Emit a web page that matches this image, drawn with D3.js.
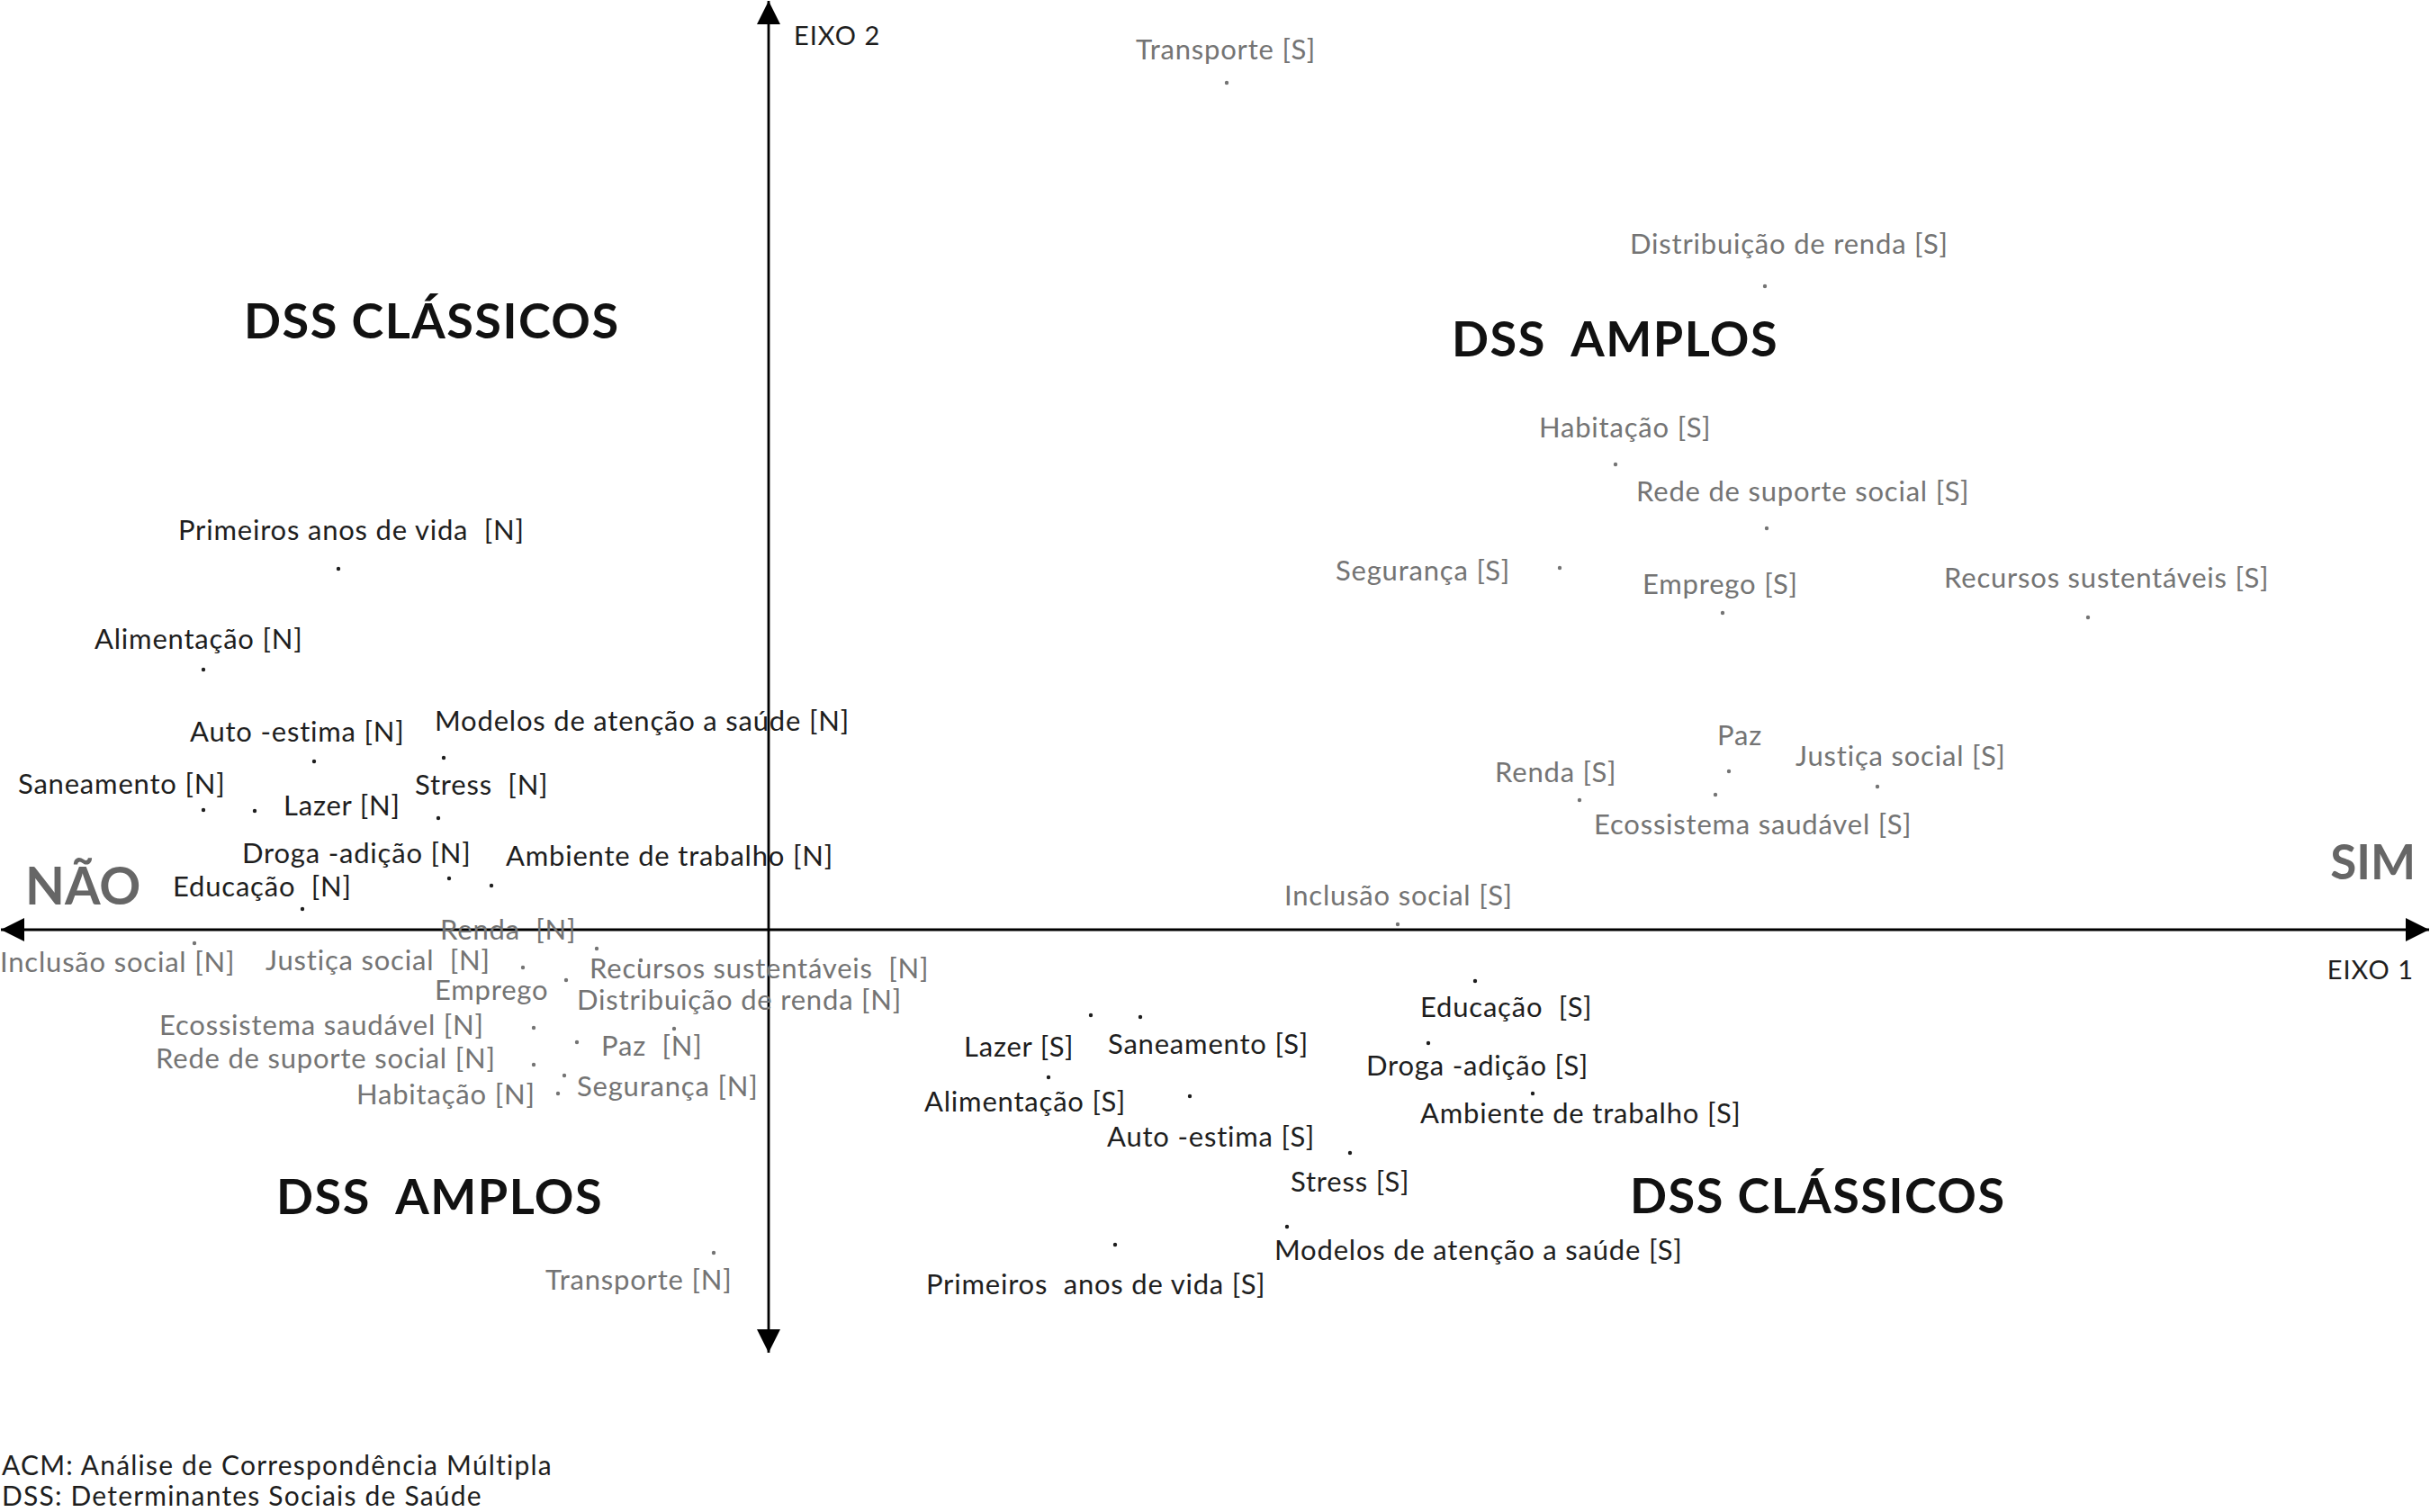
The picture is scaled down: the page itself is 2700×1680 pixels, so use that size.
<!DOCTYPE html>
<html>
<head>
<meta charset="utf-8">
<script src="https://cdn.jsdelivr.net/npm/d3@7"></script>
<style>
  html, body { margin: 0; padding: 0; background: #fff; }
  svg { display: block; }
  text { white-space: pre; }
</style>
</head>
<body>
<svg id="chart" width="2700" height="1680"></svg>
<script>
// ---- Data (MCA coordinates, Eixo 1 / Eixo 2) ----
const labelsClassicN = ["Primeiros anos de vida  [N]", "Alimentação [N]", "Auto -estima [N]", "Modelos de atenção a saúde [N]", "Saneamento [N]", "Lazer [N]", "Stress  [N]", "Droga -adição [N]", "Ambiente de trabalho [N]", "Educação  [N]"];
const xClassicN = [-0.956, -1.256, -1.010, -0.722, -1.256, -1.142, -0.734, -0.710, -0.616, -1.036];
const yClassicN = [0.802, 0.578, 0.374, 0.382, 0.266, 0.264, 0.248, 0.114, 0.098, 0.046];

const labelsBroadN = ["Renda  [N]", "Inclusão social [N]", "Justiça social  [N]", "Emprego", "Recursos sustentáveis  [N]", "Distribuição de renda [N]", "Ecossistema saudável [N]", "Paz  [N]", "Rede de suporte social [N]", "Segurança [N]", "Habitação [N]", "Transporte [N]"];
const xBroadN = [-0.382, -1.276, -0.546, -0.450, -0.284, -0.210, -0.522, -0.426, -0.522, -0.454, -0.468, -0.122];
const yBroadN = [-0.042, -0.030, -0.084, -0.112, -0.068, -0.220, -0.218, -0.250, -0.300, -0.324, -0.364, -0.718];

const labelsBroadS = ["Transporte [S]", "Distribuição de renda [S]", "Habitação [S]", "Rede de suporte social [S]", "Segurança [S]", "Emprego [S]", "Recursos sustentáveis [S]", "Paz", "Justiça social [S]", "Renda [S]", "Ecossistema saudável [S]", "Inclusão social [S]"];
const xBroadS = [1.018, 2.214, 1.882, 2.218, 1.758, 2.120, 2.932, 2.134, 2.464, 1.802, 2.104, 1.398];
const yBroadS = [1.882, 1.430, 1.034, 0.892, 0.804, 0.704, 0.694, 0.352, 0.318, 0.288, 0.300, 0.012];

const labelsClassicS = ["Educação  [S]", "Lazer [S]", "Saneamento [S]", "Droga -adição [S]", "Alimentação [S]", "Auto -estima [S]", "Ambiente de trabalho [S]", "Stress [S]", "Modelos de atenção a saúde [S]", "Primeiros  anos de vida [S]"];
const xClassicS = [1.570, 0.716, 0.826, 1.466, 0.622, 0.936, 1.698, 1.292, 1.152, 0.770];
const yClassicS = [-0.114, -0.190, -0.194, -0.252, -0.328, -0.370, -0.364, -0.496, -0.660, -0.700];

const quadrantTitles = ["DSS CLÁSSICOS", "DSS  AMPLOS", "DSS  AMPLOS", "DSS CLÁSSICOS"];
const poleLabels = ["NÃO", "SIM"];
const axisLabels = ["EIXO 1", "EIXO 2"];
const footnotes = ["ACM: Análise de Correspondência Múltipla", "DSS: Determinantes Sociais de Saúde"];

// ---- Layout (label offsets in px, relative to point) ----
const offClassicN = [[-178,-32],[-121,-23],[-138,-22],[-10,-30],[-206,-18],[32,5],[-26,-26],[-230,-17],[16,-22],[-144,-14]];
const offBroadN = [[-174,-10],[-216,32],[-286,3],[-146,22],[-57,20],[-108,-21],[-416,8],[27,15],[-420,4],[14,23],[-224,12],[-187,41]];
const offBroadS = [[-101,-26],[-150,-36],[-85,-30],[-145,-30],[-249,14],[-89,-21],[-160,-33],[-13,-29],[-91,-23],[-94,-20],[-135,44],[-126,-21]];
const offClassicS = [[-61,40],[-141,46],[-36,41],[-69,36],[-138,38],[-92,56],[-125,33],[-66,43],[-14,37],[-210,55]];

const W = 2700, H = 1680;
const x = d3.scaleLinear().domain([-1.708, 3.692]).range([0, W]);
const y = d3.scaleLinear().domain([-1.294, 2.066]).range([H, 0]);
const yAxisBottom = -0.94;

const svg = d3.select("#chart");
const FONT = "Lato, 'Open Sans', 'Noto Sans', sans-serif";
const BLACK = "#1e1e1e", GREY = "#747474";

// arrow markers
const defs = svg.append("defs");
defs.append("marker").attr("id", "arrow").attr("viewBox", "0 0 10 10")
  .attr("refX", 10).attr("refY", 5).attr("markerUnits", "userSpaceOnUse")
  .attr("markerWidth", 26).attr("markerHeight", 26).attr("orient", "auto-start-reverse")
  .append("path").attr("d", "M0,0 L10,5 L0,10 Z").attr("fill", "#000");

// axes
svg.append("line")
  .attr("x1", x.range()[0] + 1).attr("x2", x.range()[1] - 1)
  .attr("y1", y(0)).attr("y2", y(0))
  .attr("stroke", "#000").attr("stroke-width", 3.2)
  .attr("marker-start", "url(#arrow)").attr("marker-end", "url(#arrow)");
svg.append("line")
  .attr("x1", x(0)).attr("x2", x(0))
  .attr("y1", y(yAxisBottom)).attr("y2", y.range()[1] + 1)
  .attr("stroke", "#000").attr("stroke-width", 2.8)
  .attr("marker-start", "url(#arrow)").attr("marker-end", "url(#arrow)");

function group(labels, xs, ys, offs, color) {
  const data = labels.map((l, i) => ({ label: l, x: xs[i], y: ys[i], off: offs[i] }));
  const g = svg.append("g");
  g.selectAll("circle").data(data).join("circle")
    .attr("cx", d => x(d.x)).attr("cy", d => y(d.y)).attr("r", 2.2)
    .attr("fill", color);
  g.selectAll("text").data(data).join("text")
    .attr("x", d => x(d.x) + d.off[0]).attr("y", d => y(d.y) + d.off[1])
    .attr("font-family", FONT).attr("font-size", 31).attr("letter-spacing", 0.8)
    .attr("fill", color)
    .text(d => d.label);
}
group(labelsClassicN, xClassicN, yClassicN, offClassicN, BLACK);
group(labelsBroadN, xBroadN, yBroadN, offBroadN, GREY);
group(labelsBroadS, xBroadS, yBroadS, offBroadS, GREY);
group(labelsClassicS, xClassicS, yClassicS, offClassicS, BLACK);

// quadrant titles
const titlePos = [[271, 376], [1613, 396], [307, 1349], [1811, 1348]];
svg.selectAll("text.qt").data(quadrantTitles).join("text").attr("class", "qt")
  .attr("x", (d, i) => titlePos[i][0]).attr("y", (d, i) => titlePos[i][1])
  .attr("font-family", FONT).attr("font-weight", 700).attr("font-size", 54)
  .attr("letter-spacing", 1.5)
  .attr("fill", "#111").text(d => d);

// poles
svg.append("text").attr("x", 28).attr("y", 1005)
  .attr("font-family", FONT).attr("font-weight", 700).attr("font-size", 57)
  .attr("fill", "#666").text(poleLabels[0]);
svg.append("text").attr("x", 2684).attr("y", 977).attr("text-anchor", "end")
  .attr("font-family", FONT).attr("font-weight", 700).attr("font-size", 53)
  .attr("fill", "#666").text(poleLabels[1]);

// axis labels
svg.append("text").attr("x", 2682).attr("y", 1088).attr("text-anchor", "end")
  .attr("font-family", FONT).attr("font-size", 29).attr("letter-spacing", 1)
  .attr("fill", BLACK).text(axisLabels[0]);
svg.append("text").attr("x", x(0) + 28).attr("y", 50)
  .attr("font-family", FONT).attr("font-size", 29).attr("letter-spacing", 1)
  .attr("fill", BLACK).text(axisLabels[1]);

// footnotes
svg.selectAll("text.fn").data(footnotes).join("text").attr("class", "fn")
  .attr("x", 2).attr("y", (d, i) => 1639 + i * 34)
  .attr("font-family", FONT).attr("font-size", 30).attr("letter-spacing", 1.2)
  .attr("fill", BLACK).text(d => d);
</script>
</body>
</html>
